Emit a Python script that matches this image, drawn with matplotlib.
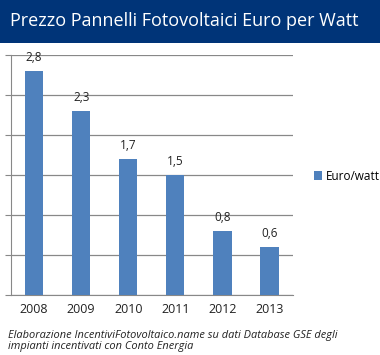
import matplotlib.pyplot as plt
import numpy as np

years = ["2008", "2009", "2010", "2011", "2012", "2013"]
prices = [2.8, 2.3, 1.7, 1.5, 0.8, 0.6]
labels = ["2,8", "2,3", "1,7", "1,5", "0,8", "0,6"]

W, H = 380, 355
fig = plt.figure(figsize=(W / 100, H / 100), dpi=100)
fig.patch.set_facecolor("white")

# title banner
banner = fig.add_axes([0, 1 - 43 / H, 1, 43 / H])
banner.set_facecolor("#003478")
banner.set_xticks([])
banner.set_yticks([])
for s in banner.spines.values():
    s.set_visible(False)
banner.text(10 / W, 0.52, "Prezzo Pannelli Fotovoltaici Euro per Watt", color="white",
            fontsize=13, family="Open Sans", va="center", ha="left",
            transform=banner.transAxes)

ax = fig.add_axes([10.5 / W, 1 - 295 / H, (293 - 10.5) / W, (295 - 55) / H])
x = np.arange(len(years))
ax.bar(x, prices, width=0.39, color="#4F81BD", label="Euro/watt", zorder=3)
for xi, p, lab in zip(x, prices, labels):
    ax.text(xi, p + 0.09, lab, ha="center", va="bottom", fontsize=8.5,
            family="Open Sans", color="#222222")

ax.set_xlim(-0.5, 5.5)
ax.set_ylim(0, 3.0)
ax.set_yticks(np.arange(0, 3.01, 0.5))
ax.set_yticklabels([])
ax.set_xticks(x)
ax.set_xticklabels(years, fontsize=9, family="Open Sans", color="#222222")
ax.tick_params(axis="x", length=0, pad=6)
ax.tick_params(axis="y", length=4, color="#888888")
ax.yaxis.grid(True, color="#888888", linewidth=0.9, zorder=0)
for s in ["top", "right"]:
    ax.spines[s].set_visible(False)
ax.spines["left"].set_color("#888888")
ax.spines["bottom"].set_color("#888888")

fig.legend(loc="center left", bbox_to_anchor=(303 / W, 1 - 176 / H), frameon=False,
           prop={"family": "Open Sans", "size": 8.5}, handlelength=0.7, handleheight=0.7,
           handletextpad=0.3)

fig.text(8 / W, 1 - 341 / H, "Elaborazione IncentiviFotovoltaico.name su dati Database GSE degli\nimpianti incentivati con Conto Energia",
         fontsize=7.9, style="italic", family="Open Sans", color="#222222",
         va="center", ha="left", linespacing=1.05)

fig.savefig("out.png", dpi=100)
